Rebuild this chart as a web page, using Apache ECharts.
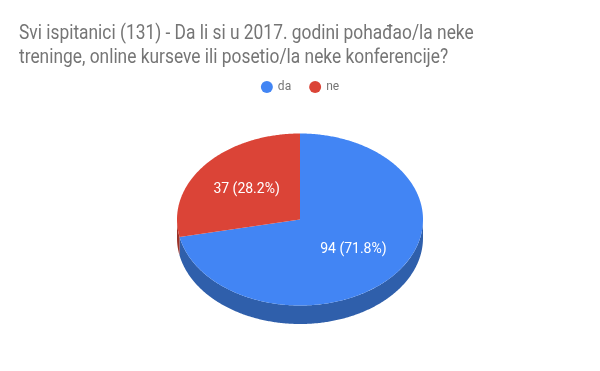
<!DOCTYPE html>
<html><head><meta charset="utf-8">
<script src="https://cdn.jsdelivr.net/npm/echarts@6/dist/echarts.min.js"></script>
<style>html,body{margin:0;padding:0;background:#fff}#c{width:600px;height:371px}</style>
</head><body><div id="c"></div>
<script>
const categories = ['da', 'ne'];
const values = [94, 37];
const colors = ['#4285f4', '#db4437'];
const sideColors = ['#2f5fab', '#9c3228'];
const titleText = 'Svi ispitanici (131) - Da li si u 2017. godini pohađao/la neke\ntreninge, online kurseve ili posetio/la neke konferencije?';

const total = values.reduce((a, b) => a + b, 0);
const CX = 300, CY = 219.5, RX = 123, RY = 86, DEPTH = 18.5, LABEL_R = 0.56;

function pt(t, dy) { return [CX + RX * Math.cos(t), CY + RY * Math.sin(t) + (dy || 0)]; }
function arc(a0, a1, dy) {
  const n = Math.max(2, Math.ceil(Math.abs(a1 - a0) / 0.01));
  const pts = [];
  for (let i = 0; i <= n; i++) pts.push(pt(a0 + (a1 - a0) * i / n, dy));
  return pts;
}

function renderItem(params, api) {
  const idx = params.seriesIndex;
  let before = 0;
  for (let i = 0; i < idx; i++) before += values[i];
  const v = api.value(0);
  const a0 = -Math.PI / 2 + before / total * 2 * Math.PI;
  const a1 = a0 + v / total * 2 * Math.PI;
  const children = [];
  for (const off of [0, 2 * Math.PI, -2 * Math.PI]) {
    const s = Math.max(a0, off), e = Math.min(a1, off + Math.PI);
    if (e > s) {
      const top = arc(s, e, 0), bot = arc(s, e, DEPTH).reverse();
      children.push({ type: 'polygon', z2: 1, shape: { points: top.concat(bot) }, style: { fill: sideColors[idx] } });
    }
  }
  children.push({ type: 'polygon', z2: 10, shape: { points: [[CX, CY]].concat(arc(a0, a1, 0)) }, style: { fill: api.visual('color') } });
  const m = (a0 + a1) / 2;
  children.push({
    type: 'text', z2: 20,
    x: CX + RX * LABEL_R * Math.cos(m), y: CY + RY * LABEL_R * Math.sin(m),
    style: { text: v + ' (' + (v / total * 100).toFixed(1) + '%)', fill: '#fff', fontSize: 14, fontFamily: 'Roboto', align: 'center', verticalAlign: 'middle' }
  });
  return { type: 'group', children };
}

const chart = echarts.init(document.getElementById('c'));
chart.setOption({
  animation: false,
  graphic: [{
    type: 'text', left: 19, top: 22, scaleX: 0.868, originX: 0,
    style: { text: titleText, fontFamily: 'Roboto', fontSize: 20, fill: '#757575', lineHeight: 24 }
  }],
  legend: {
    data: categories, left: 'center', top: 76, icon: 'circle', itemWidth: 12, itemHeight: 12, itemGap: 18,
    textStyle: { fontFamily: 'Roboto', fontSize: 12, color: '#757575' }
  },
  series: categories.map((name, i) => ({
    type: 'custom', name: name, coordinateSystem: 'none',
    itemStyle: { color: colors[i] },
    renderItem: renderItem,
    data: [[values[i]]]
  }))
});
</script></body></html>
